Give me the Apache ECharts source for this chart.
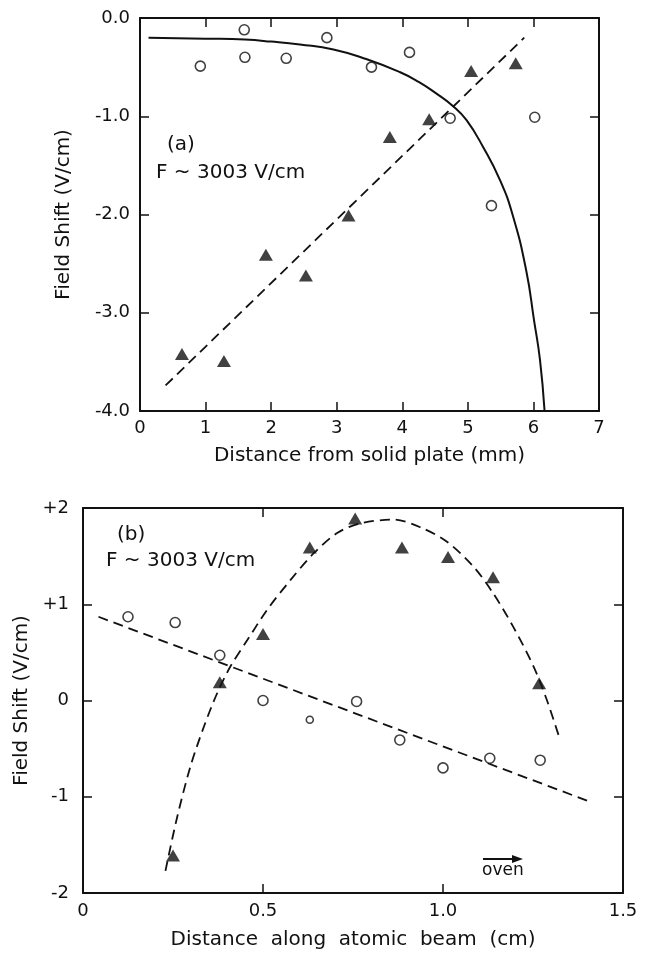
<!DOCTYPE html>
<html>
<head>
<meta charset="utf-8">
<script src="https://cdn.jsdelivr.net/npm/echarts@6/dist/echarts.min.js"></script>
<style>html,body{margin:0;padding:0;background:#fff}#c{width:647px;height:953px}</style>
</head>
<body>
<div id="c"></div>
<script>
// ---------- Panel (a) data ----------
const circlesA = [[0.92,-0.49],[1.59,-0.12],[1.60,-0.40],[2.23,-0.41],[2.85,-0.20],[3.53,-0.50],[4.11,-0.35],[4.73,-1.02],[5.36,-1.91],[6.02,-1.01]];
const trianglesA = [[0.64,-3.42],[1.28,-3.49],[1.92,-2.41],[2.53,-2.62],[3.18,-2.01],[3.81,-1.21],[4.41,-1.03],[5.05,-0.54],[5.73,-0.46]];
const dashedLineA = [[0.39,-3.74],[5.86,-0.20]];
const solidCurveA = [[0.13,-0.20],[1.0,-0.21],[1.6,-0.22],[2.0,-0.24],[2.44,-0.27],[2.95,-0.32],[3.46,-0.42],[3.96,-0.55],[4.25,-0.65],[4.50,-0.76],[4.78,-0.90],[4.98,-1.04],[5.23,-1.31],[5.49,-1.65],[5.69,-2.02],[5.89,-2.57],[6.01,-3.08],[6.10,-3.48],[6.17,-4.0]];
const xTicksA = ['0','1','2','3','4','5','6','7'];
const yTickValsA = [-4,-3,-2,-1,0];
const yTickLabelsA = ['-4.0','-3.0','-2.0','-1.0','0.0'];

// ---------- Panel (b) data ----------
const circlesB = [[0.125,0.87],[0.256,0.81],[0.38,0.47],[0.50,0.00],[0.63,-0.20],[0.76,-0.01],[0.88,-0.41],[1.00,-0.70],[1.13,-0.60],[1.27,-0.62]];
const trianglesB = [[0.25,-1.61],[0.38,0.19],[0.50,0.69],[0.63,1.59],[0.756,1.89],[0.886,1.59],[1.014,1.49],[1.139,1.28],[1.267,0.18]];
const dashedLineB = [[0.043,0.87],[1.40,-1.04]];
const dashedCurveB = [[0.229,-1.77],[0.261,-1.22],[0.298,-0.69],[0.335,-0.28],[0.372,0.07],[0.409,0.35],[0.456,0.625],[0.511,0.94],[0.576,1.25],[0.641,1.53],[0.706,1.74],[0.77,1.84],[0.863,1.88],[0.937,1.80],[1.011,1.65],[1.085,1.39],[1.14,1.11],[1.196,0.76],[1.252,0.35],[1.289,0.0],[1.321,-0.36]];
const xTickValsB = [0,0.5,1.0,1.5];
const xTickLabelsB = ['0','0.5','1.0','1.5'];
const yTickValsB = [-2,-1,0,1,2];
const yTickLabelsB = ['-2','-1','0','+1','+2'];

const FONT = 'DejaVu Sans';
const INK = '#111';

function lab(vals, labels){ return v => { const i = vals.findIndex(t => Math.abs(t - v) < 1e-9); return i >= 0 ? labels[i] : ''; }; }

const axisLine = () => ({show:true, onZero:false, lineStyle:{color:INK, width:2}});
const tick = () => ({show:true, inside:true, length:9, lineStyle:{color:INK, width:1.5}});
const nameStyle = () => ({color:INK, fontFamily:FONT, fontSize:20});

const chart = echarts.init(document.getElementById('c'), null, {renderer:'canvas'});
chart.setOption({
  animation:false,
  backgroundColor:'#fff',
  grid:[
    {left:140, top:18, width:459, height:393},
    {left:83, top:508, width:540, height:385}
  ],
  xAxis:[
    {gridIndex:0, type:'value', min:0, max:7, interval:1, position:'bottom', axisLine:axisLine(), axisTick:tick(), splitLine:{show:false},
     axisLabel:{color:INK, fontFamily:FONT, fontSize:18, margin:8, formatter:v => xTicksA[Math.round(v)]},
     name:'Distance from solid plate (mm)', nameLocation:'middle', nameGap:35, nameTextStyle:nameStyle()},
    {gridIndex:0, type:'value', min:0, max:7, interval:1, position:'top', axisLine:axisLine(), axisTick:tick(), splitLine:{show:false}, axisLabel:{show:false}},
    {gridIndex:1, type:'value', min:0, max:1.5, interval:0.5, position:'bottom', axisLine:axisLine(), axisTick:tick(), splitLine:{show:false},
     axisLabel:{color:INK, fontFamily:FONT, fontSize:18, margin:9, formatter:lab(xTickValsB, xTickLabelsB)},
     name:'Distance  along  atomic  beam  (cm)', nameLocation:'middle', nameGap:37, nameTextStyle:nameStyle()},
    {gridIndex:1, type:'value', min:0, max:1.5, interval:0.5, position:'top', axisLine:axisLine(), axisTick:tick(), splitLine:{show:false}, axisLabel:{show:false}}
  ],
  yAxis:[
    {gridIndex:0, type:'value', min:-4, max:0, interval:1, position:'left', axisLine:axisLine(), axisTick:tick(), splitLine:{show:false},
     axisLabel:{color:INK, fontFamily:FONT, fontSize:18, margin:10, formatter:lab(yTickValsA, yTickLabelsA)},
     name:'Field Shift (V/cm)', nameLocation:'middle', nameGap:66, nameTextStyle:nameStyle()},
    {gridIndex:0, type:'value', min:-4, max:0, interval:1, position:'right', axisLine:axisLine(), axisTick:tick(), splitLine:{show:false}, axisLabel:{show:false}},
    {gridIndex:1, type:'value', min:-2, max:2, interval:1, position:'left', axisLine:axisLine(), axisTick:tick(), splitLine:{show:false},
     axisLabel:{color:INK, fontFamily:FONT, fontSize:18, margin:14, formatter:lab(yTickValsB, yTickLabelsB)},
     name:'Field Shift (V/cm)', nameLocation:'middle', nameGap:49, nameTextStyle:nameStyle()},
    {gridIndex:1, type:'value', min:-2, max:2, interval:1, position:'right', axisLine:axisLine(), axisTick:tick(), splitLine:{show:false}, axisLabel:{show:false}}
  ],
  series:[
    {type:'line', xAxisIndex:0, yAxisIndex:0, data:solidCurveA, smooth:0.5, showSymbol:false, lineStyle:{color:INK, width:2}, z:2},
    {type:'line', xAxisIndex:0, yAxisIndex:0, data:dashedLineA, showSymbol:false, lineStyle:{color:INK, width:1.8, type:[10,6]}, z:2},
    {type:'scatter', xAxisIndex:0, yAxisIndex:0, data:circlesA, symbol:'circle', symbolSize:10, itemStyle:{color:'#fff', borderColor:INK, borderWidth:1.6}, z:3},
    {type:'scatter', xAxisIndex:0, yAxisIndex:0, data:trianglesA, symbol:'triangle', symbolSize:[14,12], itemStyle:{color:INK}, z:3},
    {type:'line', xAxisIndex:2, yAxisIndex:2, data:dashedLineB, showSymbol:false, lineStyle:{color:INK, width:1.8, type:[10,6]}, z:2},
    {type:'line', xAxisIndex:2, yAxisIndex:2, data:dashedCurveB, smooth:0.3, showSymbol:false, lineStyle:{color:INK, width:1.8, type:[10,6]}, z:2},
    {type:'scatter', xAxisIndex:2, yAxisIndex:2, data:circlesB, symbol:'circle', symbolSize:(v,p) => p.dataIndex === 4 ? 7 : 10, itemStyle:{color:'#fff', borderColor:INK, borderWidth:1.6}, z:3},
    {type:'scatter', xAxisIndex:2, yAxisIndex:2, data:trianglesB, symbol:'triangle', symbolSize:[14,12], itemStyle:{color:INK}, z:3}
  ],
  graphic:[
    {type:'text', left:167, top:135, style:{text:'(a)', font:'20px "DejaVu Sans"', fill:INK}},
    {type:'text', left:156, top:163, style:{text:'F ~ 3003 V/cm', font:'20px "DejaVu Sans"', fill:INK}},
    {type:'text', left:117, top:525, style:{text:'(b)', font:'20px "DejaVu Sans"', fill:INK}},
    {type:'text', left:106, top:551, style:{text:'F ~ 3003 V/cm', font:'20px "DejaVu Sans"', fill:INK}},
    {type:'text', left:482, top:862, style:{text:'oven', font:'17px "DejaVu Sans"', fill:INK}},
    {type:'line', shape:{x1:483, y1:859, x2:514, y2:859}, style:{stroke:INK, lineWidth:2}},
    {type:'polygon', shape:{points:[[512,855],[523,859],[512,863]]}, style:{fill:INK}}
  ]
});
</script>
</body>
</html>
